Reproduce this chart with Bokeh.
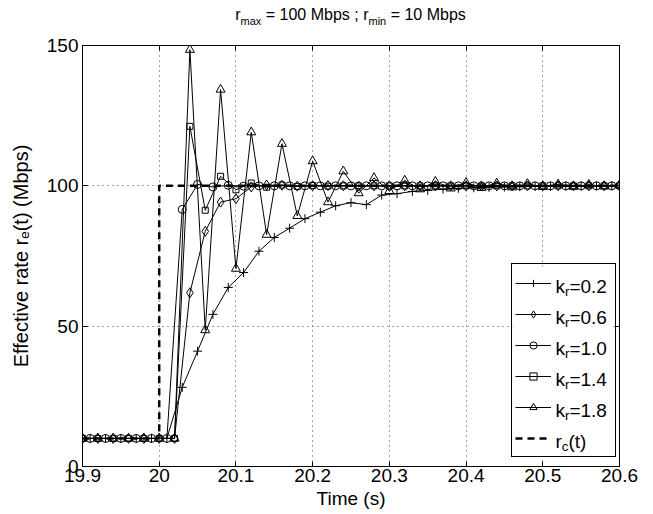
from bokeh.plotting import figure
from bokeh.layouts import column
from bokeh.models import (ColumnDataSource, FixedTicker, LinearAxis, CustomJSTickFormatter,
                          Legend, LegendItem, Div)
from bokeh.core.properties import value
from bokeh.embed import file_html
from bokeh.resources import INLINE

# ---------------- data ----------------
t_start_odd = 19.91     # k_r = 0.2 and 1.0 are sampled at odd hundredths
t_start_even = 19.90    # k_r = 0.6, 1.4 and 1.8 at even hundredths
t_step = 0.02

k02 = [10, 10, 10, 10, 10, 10,
       28.2, 41.1, 54.2, 63.8, 69.1, 76.7, 81.6, 84.9, 88.3, 90.6,
       92.9, 94.0, 93.3, 96.7, 97.2, 98.0, 98.4, 98.8, 99.1, 99.3,
       99.5, 99.6, 99.7, 99.8, 99.8, 99.9, 99.9, 100.0, 100.0]
k06 = [10, 10, 10, 10, 10, 10, 10,
       61.9, 83.8, 94.2, 95.4, 99.6, 100.3, 100.2, 99.9,
       100.0, 100.1, 100.0, 99.9, 100.0, 100.0, 100.0, 100.0, 100.0, 100.0,
       100.0, 100.0, 100.0, 100.0, 100.0, 100.0, 100.0, 100.0, 100.0, 100.0, 100.0]
k10 = [10, 10, 10, 10, 10, 10,
       91.6, 100.5, 99.6, 100.2, 99.9,
       100.0, 100.0, 100.0, 100.0, 100.0, 100.0, 100.0, 100.0, 100.0, 100.0,
       100.0, 100.0, 100.0, 100.0, 100.0, 100.0, 100.0, 100.0, 100.0, 100.0,
       100.0, 100.0, 100.0, 100.0]
k14 = [10, 10, 10, 10, 10, 10, 10,
       121.2, 91.3, 103.4, 98.6, 101.0, 99.5, 100.3, 99.8, 100.1, 99.9,
       100.0, 100.0, 100.0, 100.0, 100.0, 100.0, 100.0, 100.0, 100.0, 100.0,
       100.0, 100.0, 100.0, 100.0, 100.0, 100.0, 100.0, 100.0, 100.0]
k18 = [10, 10, 10, 10, 10, 10, 10,
       148.5, 48.6, 134.3, 70.5, 119.1, 82.6, 115.0, 89.3, 108.8, 94.2,
       105.2, 97.4, 102.8, 98.2, 101.9, 98.8, 101.5, 99.1, 101.1, 99.3,
       100.9, 99.5, 100.7, 99.6, 100.5, 99.7, 100.4, 99.8, 100.3]

rc_t = [19.9, 20.0, 20.0, 20.6]
rc_v = [10, 10, 100, 100]

x_ticks = [19.9, 20.0, 20.1, 20.2, 20.3, 20.4, 20.5, 20.6]
y_ticks = [0, 50, 100, 150]
x_lo, x_hi = 19.9, 20.6
y_lo, y_hi = 0, 150

title_parts = [("r", "max", " = 100 Mbps ; "), ("r", "min", " = 10 Mbps")]
x_label = "Time (s)"
y_label = "Effective rate r\u2091(t) (Mbps)"
legend_main = [("k", "r", "=0.2"), ("k", "r", "=0.6"), ("k", "r", "=1.0"),
               ("k", "r", "=1.4"), ("k", "r", "=1.8"), ("r", "c", "(t)")]

t_odd = [round(t_start_odd + t_step * i, 2) for i in range(len(k02))]
t_even = [round(t_start_even + t_step * i, 2) for i in range(len(k06))]

FONT = "Liberation Sans"
FONT_FB = "Liberation Sans, DejaVu Sans"

TITLE_H = 30
FIG_W, FIG_H = 645, 514 - TITLE_H

# ---------------- title (HTML, with real sub-scripts) ----------------
sub_style = "font-size:11px;vertical-align:-5px"
title_html = "".join("%s<span style=\"%s\">%s</span>%s" % (a, sub_style, b, c)
                     for a, b, c in title_parts)
title_div = Div(
    text=("<div style=\"width:537px;margin-left:82px;padding-top:7px;text-align:center;"
          "font-family:'Liberation Sans';font-size:16px;line-height:16px;color:black;"
          "white-space:pre\">" + title_html + "</div>"),
    width=FIG_W, height=TITLE_H, margin=0)

# ---------------- figure ----------------
p = figure(width=FIG_W, height=FIG_H, x_range=(x_lo, x_hi), y_range=(y_lo, y_hi),
           output_backend="svg", toolbar_location=None, title=None,
           min_border_left=82, min_border_right=26, min_border_top=45 - TITLE_H,
           min_border_bottom=48)
p.background_fill_color = "white"
p.border_fill_color = "white"
p.outline_line_color = "black"
p.outline_line_alpha = 1.0

fmt = CustomJSTickFormatter(code="return String(Math.round(tick*10)/10);")
blank = CustomJSTickFormatter(code="return '';")

p.xaxis.ticker = FixedTicker(ticks=x_ticks)
p.yaxis.ticker = FixedTicker(ticks=y_ticks)
p.xaxis.formatter = fmt
p.yaxis.formatter = fmt
for ax in (p.xaxis[0], p.yaxis[0]):
    ax.major_tick_in = 5
    ax.major_tick_out = 0
    ax.minor_tick_line_color = None
    ax.axis_line_color = "black"
    ax.major_tick_line_color = "black"
    ax.major_label_text_font = FONT
    ax.major_label_text_font_size = "19px"
    ax.major_label_text_color = "black"
    ax.axis_label_text_font = FONT_FB
    ax.axis_label_text_font_style = "normal"
    ax.axis_label_text_color = "black"
p.xaxis.axis_label_text_font_size = "19px"
p.yaxis.axis_label_text_font_size = "20px"
p.xaxis.major_label_standoff = 2
p.yaxis.major_label_standoff = 4
p.xaxis.axis_label = x_label
p.yaxis.axis_label = y_label
p.xaxis.axis_label_standoff = 3
p.yaxis.axis_label_standoff = 12

top_ax = LinearAxis(ticker=FixedTicker(ticks=x_ticks), formatter=blank,
                    major_tick_in=5, major_tick_out=0, minor_tick_line_color=None,
                    axis_line_color="black", major_tick_line_color="black",
                    major_label_standoff=0, major_label_text_font_size="1px")
right_ax = LinearAxis(ticker=FixedTicker(ticks=y_ticks), formatter=blank,
                      major_tick_in=5, major_tick_out=0, minor_tick_line_color=None,
                      axis_line_color="black", major_tick_line_color="black",
                      major_label_standoff=0, major_label_text_font_size="1px")
p.add_layout(top_ax, "above")
p.add_layout(right_ax, "right")

for g in (p.xgrid[0], p.ygrid[0]):
    g.grid_line_color = "#444444"
    g.grid_line_dash = "1 4"
    g.grid_line_width = 1

# ---------------- series ----------------
series = [
    (t_odd, k02, "cross", 9),
    (t_even, k06, "diamond", 10),
    (t_odd, k10, "circle", 8),
    (t_even, k14, "square", 6),
    (t_even, k18, "triangle", 9),
]
items = []
for t, v, mk, sz in series:
    src = ColumnDataSource(dict(t=t, v=v))
    lr = p.line("t", "v", source=src, line_color="black", line_width=1)
    sr = p.scatter("t", "v", source=src, marker=mk, size=sz, line_color="black",
                   fill_color=None, line_width=1)
    items.append(LegendItem(label=" ", renderers=[lr, sr]))
rc = p.line(rc_t, rc_v, line_color="black", line_width=2.5, line_dash="7 5")
items.append(LegendItem(label=" ", renderers=[rc]))

# ---------------- legend ----------------
# frame edges in page pixels (title div above the figure included)
FL, FR, FT, FB = 82.0, 619.0, 45.0, 466.0


def xd(wx):
    return x_lo + (wx - FL) / (FR - FL) * (x_hi - x_lo)


def yd(wy):
    return y_lo + (FB - wy) / (FB - FT) * (y_hi - y_lo)


# white panel of the legend (under the legend's transparent box, so texts show)
p.quad(left=[xd(512)], right=[xd(613)], bottom=[yd(456)], top=[yd(266)],
       fill_color="white", line_color=None)

legend = Legend(items=items, location=(429, 9), padding=3, spacing=0,
                glyph_width=36, glyph_height=18, label_height=31, label_width=56,
                label_standoff=5, label_text_font_size="1px",
                border_line_color="black", border_line_width=1, border_line_alpha=1,
                background_fill_alpha=0)
p.add_layout(legend, "center")

WID = {' ': 278, '=': 584, '.': 278, ';': 278, '(': 333, ')': 333,
       'c': 500, 'k': 500, 'r': 333, 't': 278}
for d in "0123456789":
    WID[d] = 556


def tw(s, size):
    return sum(WID.get(ch, 556) for ch in s) * size / 1000.0


tx, ty, tt, ts = [], [], [], []
size_main, sub_scale, sub_drop = 19.0, 0.7, 0.3
row0, pitch = 283.5, 31.0
for i, (a, sub, b) in enumerate(legend_main):
    base = row0 + i * pitch + 2
    s_sub = size_main * sub_scale
    x0 = 555.0
    tx.append(xd(x0)); ty.append(yd(base)); tt.append(a); ts.append("%.1fpx" % size_main)
    x0 += tw(a, size_main)
    tx.append(xd(x0)); ty.append(yd(base + size_main * sub_drop)); tt.append(sub)
    ts.append("%.1fpx" % s_sub)
    x0 += tw(sub, s_sub)
    tx.append(xd(x0)); ty.append(yd(base)); tt.append(b); ts.append("%.1fpx" % size_main)

txt_src = ColumnDataSource(dict(x=tx, y=ty, text=tt, size=ts))
p.text(x="x", y="y", text="text", source=txt_src, text_font=value(FONT),
       text_font_size="size", text_color="black", text_baseline="alphabetic",
       text_align="left")

layout = column(title_div, p, spacing=0)
open("out.html", "w").write(file_html(layout, INLINE))
